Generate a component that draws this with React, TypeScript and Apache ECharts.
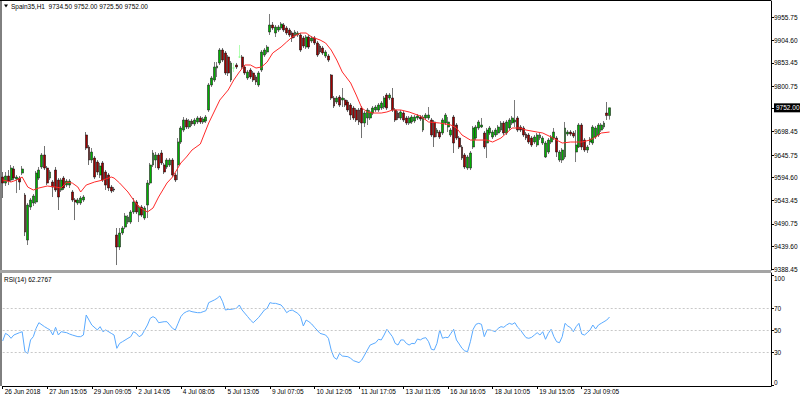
import React, { useEffect, useRef } from 'react';
import * as echarts from 'echarts';

// ---- categories (hourly session bars, 07:05-17:05) ----
const sessionDays = ['26 Jun', '27 Jun', '28 Jun', '29 Jun', '2 Jul', '3 Jul', '4 Jul', '5 Jul', '6 Jul', '9 Jul', '10 Jul', '11 Jul', '12 Jul', '13 Jul', '16 Jul', '17 Jul', '18 Jul', '19 Jul', '20 Jul', '23 Jul', '24 Jul', '25 Jul', '26 Jul', '27 Jul', '30 Jul', '31 Jul'];
const firstLabel = '26 Jun 2018';
const totalSlots = 277;
const labelEvery = 16;

// ---- price ticks ----
const priceTicks = [9955.75, 9904.6, 9853.45, 9800.75, 9752.0, 9698.45, 9645.75, 9594.6, 9543.45, 9490.75, 9439.6, 9388.45];
const currentPrice = 9752.0;
const rsiTicks = [0, 30, 50, 70, 100];
const rsiLevels = [30, 50, 70];

// ---- candles ----
const opens = [9596.2,9582.7,9598.5,9589.5,9614.3,9591.7,9594.0,9605.2,9555.7,9454.4,9528.7,9537.7,9540.0,9594.0,9618.8,9645.8,9616.5,9594.0,9585.0,9612.0,9589.5,9567.0,9594.0,9578.2,9578.2,9562.5,9544.5,9537.7,9537.7,9544.5,
9690.8,9663.8,9634.5,9639.0,9630.0,9600.7,9627.8,9607.5,9600.7,9573.7,9569.2,9465.7,9438.7,9470.2,9483.7,9494.9,9494.9,9517.5,9540.0,9510.7,9528.7,9503.9,9533.2,9582.7,9623.3,9634.5,9645.8,9650.3,9623.3,9618.8,
9623.3,9634.5,9600.7,9623.3,9675.0,9702.0,9724.6,9708.8,9722.3,9715.6,9720.1,9729.1,9720.1,9722.3,9747.1,9803.4,9814.6,9841.6,9852.9,9882.1,9875.4,9866.4,9814.6,9841.6,9848.4,9866.4,9866.4,9843.9,9819.1,9837.1,
9830.4,9821.4,9803.4,9837.1,9870.9,9877.6,9922.7,9938.4,9920.4,9927.2,9931.7,9938.4,9931.7,9927.2,9920.4,9913.7,9915.9,9915.9,9909.2,9888.9,9911.4,9902.4,9909.2,9897.9,9891.1,9886.6,9868.6,9868.6,9825.9,9774.1,
9765.1,9776.3,9769.6,9769.6,9765.1,9758.3,9751.6,9747.1,9747.1,9751.6,9717.8,9729.1,9729.1,9740.3,9747.1,9747.1,9751.6,9753.8,9780.8,9774.1,9774.1,9747.1,9740.3,9729.1,9740.3,9729.1,9717.8,9720.1,9722.3,9729.1,
9731.3,9702.0,9729.1,9729.1,9724.6,9720.1,9695.3,9697.5,9695.3,9717.8,9708.8,9690.8,9731.3,9713.3,9684.0,9663.8,9645.8,9616.5,9616.5,9663.8,9684.0,9706.6,9708.8,9695.3,9672.8,9695.3,9686.3,9690.8,9695.3,9702.0,
9717.8,9695.3,9706.6,9717.8,9720.1,9729.1,9708.8,9706.6,9693.0,9690.8,9684.0,9675.0,9668.3,9684.0,9672.8,9641.3,9652.5,9675.0,9684.0,9684.0,9634.5,9634.5,9641.3,9693.0,9697.5,9695.3,9652.5,9663.8,9713.3,9679.5,
9657.0,9675.0,9672.8,9686.3,9690.8,9702.0,9708.8,9740.3,9734.5];
const closes = [9582.7,9598.5,9587.2,9616.5,9594.0,9596.2,9585.0,9614.3,9472.4,9533.2,9544.5,9553.5,9605.2,9612.0,9645.8,9616.5,9582.7,9607.5,9573.7,9567.0,9551.2,9589.5,9571.5,9587.2,9587.2,9544.5,9540.0,9544.5,9549.0,9551.2,
9661.5,9634.5,9652.5,9596.2,9607.5,9621.0,9589.5,9578.2,9571.5,9564.7,9567.0,9438.7,9470.2,9481.4,9508.4,9506.2,9517.5,9540.0,9517.5,9528.7,9510.7,9526.5,9582.7,9623.3,9650.3,9645.8,9616.5,9627.8,9607.5,9634.5,
9634.5,9600.7,9589.5,9675.0,9706.6,9724.6,9708.8,9722.3,9715.6,9724.6,9729.1,9720.1,9726.8,9731.3,9803.4,9819.1,9843.9,9846.1,9882.1,9859.6,9830.4,9830.4,9852.9,9841.6,9843.9,9866.4,9843.9,9830.4,9832.6,9821.4,
9814.6,9810.1,9830.4,9877.6,9882.1,9888.9,9938.4,9931.7,9933.9,9933.9,9940.7,9927.2,9920.4,9915.9,9909.2,9922.7,9920.4,9882.1,9891.1,9911.4,9888.9,9909.2,9897.9,9870.9,9877.6,9875.4,9877.6,9859.6,9774.1,9756.1,
9774.1,9758.3,9774.1,9758.3,9747.1,9735.8,9729.1,9724.6,9720.1,9717.8,9740.3,9747.1,9742.6,9751.6,9753.8,9758.3,9762.8,9774.1,9751.6,9780.8,9747.1,9724.6,9729.1,9742.6,9724.6,9717.8,9729.1,9731.3,9731.3,9733.6,
9726.8,9731.3,9735.8,9735.8,9690.8,9686.3,9702.0,9686.3,9724.6,9735.8,9720.1,9702.0,9672.8,9684.0,9663.8,9639.0,9618.8,9641.3,9650.3,9706.6,9708.8,9720.1,9713.3,9663.8,9702.0,9706.6,9697.5,9702.0,9708.8,9717.8,
9695.3,9720.1,9724.6,9729.1,9724.6,9702.0,9702.0,9690.8,9684.0,9675.0,9668.3,9686.3,9690.8,9690.8,9684.0,9672.8,9679.5,9686.3,9697.5,9652.5,9652.5,9657.0,9706.6,9697.5,9693.0,9688.5,9668.3,9713.3,9663.8,9657.0,
9663.8,9681.8,9708.8,9706.6,9713.3,9713.3,9717.8,9734.5,9752.0];
const lows = [9549.0,9576.0,9578.2,9585.0,9589.5,9560.2,9567.0,9600.7,9463.4,9443.2,9522.0,9531.0,9535.5,9589.5,9614.3,9612.0,9578.2,9589.5,9551.2,9562.5,9522.0,9562.5,9567.0,9573.7,9571.5,9540.0,9499.4,9533.2,9533.2,9540.0,
9657.0,9623.3,9627.8,9591.7,9600.7,9594.0,9585.0,9567.0,9564.7,9560.2,9562.5,9398.1,9431.9,9465.7,9479.2,9490.4,9490.4,9512.9,9512.9,9494.9,9506.2,9499.4,9503.9,9578.2,9618.8,9616.5,9612.0,9623.3,9603.0,9614.3,
9618.8,9596.2,9585.0,9589.5,9670.5,9697.5,9704.3,9704.3,9711.1,9711.1,9715.6,9715.6,9715.6,9717.8,9742.6,9798.9,9810.1,9821.4,9848.4,9855.1,9825.9,9823.6,9810.1,9832.6,9839.4,9864.1,9839.4,9825.9,9814.6,9816.9,
9810.1,9803.4,9798.9,9832.6,9866.4,9873.1,9915.9,9927.2,9911.4,9922.7,9927.2,9922.7,9915.9,9911.4,9900.2,9909.2,9911.4,9877.6,9886.6,9884.4,9884.4,9897.9,9893.4,9866.4,9873.1,9870.9,9864.1,9855.1,9769.6,9751.6,
9760.6,9753.8,9753.8,9753.8,9742.6,9724.6,9724.6,9720.1,9713.3,9684.0,9708.8,9713.3,9724.6,9735.8,9742.6,9742.6,9747.1,9749.3,9747.1,9769.6,9742.6,9720.1,9724.6,9724.6,9720.1,9713.3,9713.3,9715.6,9717.8,9724.6,
9722.3,9697.5,9724.6,9724.6,9686.3,9663.8,9686.3,9681.8,9690.8,9713.3,9697.5,9686.3,9650.3,9679.5,9659.3,9634.5,9614.3,9612.0,9612.0,9659.3,9679.5,9702.0,9706.6,9659.3,9639.0,9690.8,9681.8,9686.3,9690.8,9697.5,
9690.8,9690.8,9702.0,9713.3,9708.8,9697.5,9697.5,9686.3,9679.5,9670.5,9663.8,9670.5,9663.8,9679.5,9668.3,9639.0,9648.0,9670.5,9679.5,9641.3,9630.0,9627.8,9636.8,9688.5,9688.5,9684.0,9630.0,9661.5,9657.0,9652.5,
9650.3,9668.3,9668.3,9681.8,9686.3,9697.5,9704.3,9724.6,9725.5];
const highs = [9607.5,9607.5,9612.0,9623.3,9621.0,9600.7,9598.5,9621.0,9560.2,9537.7,9549.0,9558.0,9609.7,9618.8,9650.3,9666.0,9621.0,9612.0,9589.5,9618.8,9594.0,9594.0,9598.5,9591.7,9591.7,9567.0,9549.0,9549.0,9553.5,9555.7,
9697.5,9668.3,9661.5,9643.5,9634.5,9627.8,9632.3,9612.0,9605.2,9578.2,9573.7,9481.4,9481.4,9485.9,9515.2,9510.7,9522.0,9549.0,9544.5,9533.2,9533.2,9531.0,9589.5,9627.8,9657.0,9652.5,9650.3,9657.0,9627.8,9639.0,
9639.0,9639.0,9605.2,9684.0,9711.1,9731.3,9729.1,9726.8,9726.8,9729.1,9733.6,9733.6,9731.3,9735.8,9807.9,9823.6,9855.1,9855.1,9886.6,9886.6,9879.9,9870.9,9857.4,9852.9,9852.9,9893.4,9870.9,9848.4,9837.1,9841.6,
9834.9,9825.9,9834.9,9882.1,9886.6,9893.4,9963.2,9945.2,9938.4,9938.4,9945.2,9942.9,9936.2,9931.7,9924.9,9927.2,9924.9,9920.4,9913.7,9915.9,9915.9,9913.7,9913.7,9902.4,9895.6,9891.1,9882.1,9873.1,9828.1,9778.6,
9778.6,9780.8,9796.6,9774.1,9769.6,9762.8,9756.1,9751.6,9751.6,9756.1,9744.8,9751.6,9747.1,9756.1,9758.3,9762.8,9767.3,9778.6,9785.3,9785.3,9796.6,9751.6,9744.8,9747.1,9744.8,9733.6,9733.6,9735.8,9735.8,9738.1,
9735.8,9735.8,9740.3,9753.8,9729.1,9724.6,9706.6,9702.0,9729.1,9740.3,9731.3,9706.6,9735.8,9717.8,9688.5,9668.3,9650.3,9645.8,9654.8,9711.1,9713.3,9724.6,9729.1,9699.8,9706.6,9711.1,9702.0,9706.6,9713.3,9722.3,
9722.3,9724.6,9729.1,9733.6,9769.6,9733.6,9713.3,9711.1,9697.5,9695.3,9688.5,9690.8,9695.3,9695.3,9688.5,9677.3,9684.0,9690.8,9706.6,9688.5,9657.0,9661.5,9720.1,9702.0,9702.0,9699.8,9702.0,9717.8,9717.8,9684.0,
9668.3,9686.3,9713.3,9711.1,9717.8,9717.8,9722.3,9765.1,9752.0];

// ---- moving average (bar index, price) ----
const maPoints = [[0,9589.5],[3,9585.0],[5,9589.5],[7,9596.2],[9,9573.7],[11,9567.0],[13,9571.5],[16,9576.0],[19,9573.7],[21,9571.5],[23,9585.0],[25,9582.7],[27,9573.7],[28,9562.5],[30,9578.2],[33,9585.0],[36,9589.5],[39,9596.2],[40,9594.0],[42,9582.7],[45,9562.5],[47,9544.5],[49,9528.7],[52,9517.5],[54,9526.5],[56,9551.2],[59,9582.7],[61,9596.2],[64,9627.8],[66,9641.3],[68,9657.0],[71,9670.5],[74,9717.8],[78,9769.6],[81,9792.1],[83,9814.6],[85,9832.6],[87,9848.4],[89,9848.4],[91,9841.6],[93,9843.9],[95,9855.1],[97,9875.4],[100,9888.9],[102,9900.2],[104,9911.4],[107,9920.4],[109,9920.4],[111,9911.4],[114,9904.7],[116,9897.9],[118,9882.1],[120,9859.6],[122,9832.6],[125,9807.9],[127,9780.8],[129,9751.6],[131,9742.6],[133,9740.3],[136,9740.3],[138,9742.6],[140,9747.1],[143,9747.1],[146,9742.6],[150,9733.6],[153,9720.1],[157,9717.8],[161,9713.3],[163,9706.6],[165,9690.8],[168,9679.5],[170,9679.5],[174,9679.5],[176,9675.0],[179,9684.0],[181,9695.3],[183,9706.6],[186,9706.6],[188,9702.0],[192,9697.5],[194,9695.3],[197,9686.3],[199,9679.5],[201,9672.8],[204,9675.0],[206,9675.0],[208,9675.0],[211,9679.5],[213,9686.3],[215,9695.3],[218,9697.5]];

// ---- RSI(14) (bar index, value) ----
const rsiPoints = [[0,40.5],[1,47.4],[2,45.9],[3,42.9],[4,45.9],[6,48.0],[7,48.9],[8,30.8],[9,29.2],[10,41.4],[11,44.4],[12,52.0],[13,57.1],[15,53.5],[16,52.0],[17,50.5],[18,45.9],[19,52.9],[20,45.9],[21,48.9],[23,48.0],[24,46.8],[25,45.9],[27,44.4],[28,44.4],[29,45.9],[30,64.1],[31,59.5],[32,55.0],[34,50.5],[35,53.5],[36,48.9],[37,50.5],[39,47.4],[40,45.9],[41,33.8],[42,38.3],[43,39.8],[45,42.9],[46,44.4],[47,48.9],[48,47.4],[49,44.4],[50,45.9],[52,55.0],[53,61.1],[54,62.6],[55,61.1],[56,57.1],[58,58.0],[59,58.0],[60,55.0],[61,52.0],[62,50.5],[63,56.5],[64,62.6],[65,65.6],[66,67.1],[67,68.0],[68,67.1],[70,66.2],[71,66.2],[72,67.1],[73,68.0],[74,75.3],[76,77.7],[77,79.2],[78,81.4],[79,76.2],[80,68.6],[81,69.2],[82,69.2],[84,70.2],[85,73.2],[86,68.6],[88,62.6],[89,59.5],[90,57.1],[91,59.5],[92,62.0],[94,68.6],[95,70.2],[96,75.3],[97,74.7],[98,74.7],[100,73.2],[101,70.2],[102,66.2],[103,68.0],[104,68.6],[106,65.6],[107,62.6],[108,54.1],[109,59.5],[110,58.0],[111,55.9],[112,52.9],[114,47.4],[116,45.9],[117,42.9],[118,32.3],[119,25.6],[120,23.8],[121,29.2],[122,26.8],[124,26.2],[125,24.7],[126,22.6],[128,20.8],[129,23.2],[130,27.7],[131,32.3],[132,36.8],[134,38.9],[135,42.0],[136,41.4],[137,45.9],[138,51.1],[140,44.4],[141,38.3],[142,36.8],[143,41.4],[144,41.4],[145,38.3],[146,36.8],[147,38.3],[148,38.0],[149,42.3],[150,41.4],[151,42.9],[152,43.5],[153,39.8],[154,32.9],[155,32.3],[156,38.3],[157,50.5],[158,42.9],[159,43.8],[160,43.5],[161,47.4],[162,51.1],[163,41.4],[164,37.7],[165,33.8],[166,31.4],[167,30.8],[168,39.8],[169,51.1],[170,55.6],[171,56.5],[172,55.6],[173,44.4],[174,50.5],[175,50.5],[176,49.8],[177,48.9],[178,52.0],[179,53.5],[180,52.9],[181,55.0],[182,56.5],[183,55.6],[184,57.1],[185,52.9],[186,50.5],[187,46.8],[188,43.5],[189,42.9],[190,43.8],[191,45.9],[192,48.0],[193,45.9],[194,48.9],[195,42.0],[196,47.4],[197,51.1],[198,44.4],[199,39.8],[200,38.9],[201,44.4],[202,56.5],[203,54.1],[204,52.6],[205,48.9],[206,53.5],[207,56.5],[208,46.8],[209,45.9],[210,48.0],[211,50.5],[212,55.0],[213,51.4],[214,55.0],[215,56.5],[216,58.0],[217,59.5],[218,62.2767]];

const titleText = 'Spain35,H1  9734.50 9752.00 9725.50 9752.00';
const rsiTitle = 'RSI(14) 62.2767';

const FONT = '"Liberation Sans", Arial, sans-serif';
const FS = 6.5;

function buildCategories(): string[] {
  const out: string[] = [];
  sessionDays.forEach((d, di) => {
    const start = di === 0 ? 10 : 7;
    for (let h = start; h <= 17; h++) out.push(`${d} ${String(h).padStart(2, '0')}:05`);
  });
  return out.slice(0, totalSlots);
}

export default function App() {
  const ref = useRef<HTMLDivElement>(null);
  useEffect(() => {
    if (!ref.current) return;
    const chart = echarts.init(ref.current, null, { renderer: 'svg' });
    const categories = buildCategories();
    const lastBar = opens.length - 1;
    const candles = opens.map((o, i) => [o, closes[i], lows[i], highs[i]]);
    const showAt = (i: number) => i % labelEvery === 0 && i <= lastBar;

    const option: any = {
      animation: false,
      backgroundColor: '#ffffff',
      textStyle: { fontFamily: FONT },
      grid: [
        { left: 2.7, right: 29, top: 1, height: 269, outerBoundsMode: 'none', containLabel: false },
        { left: 2.7, right: 29, top: 273, height: 113, outerBoundsMode: 'none', containLabel: false },
      ],
      xAxis: [
        {
          type: 'category', gridIndex: 0, data: categories, boundaryGap: false,
          axisLine: { show: false }, axisTick: { show: false }, axisLabel: { show: false }, splitLine: { show: false },
        },
        {
          type: 'category', gridIndex: 1, data: categories, boundaryGap: false,
          axisLine: { show: true, onZero: false, lineStyle: { color: '#000', width: 1 } },
          axisTick: { show: true, interval: (i: number) => showAt(i), length: 3, lineStyle: { color: '#000' } },
          axisLabel: {
            interval: (i: number) => showAt(i), align: 'left', margin: 2, padding: [0, 0, 0, 2],
            fontSize: FS, fontFamily: FONT, color: '#000',
            formatter: (v: string, i: number) => (i === 0 ? firstLabel : v),
          },
          splitLine: { show: false },
        },
      ],
      yAxis: [
        {
          type: 'value', gridIndex: 0, position: 'right', min: 9386.95, max: 9992.45, scale: true,
          axisLine: { show: true, onZero: false, lineStyle: { color: '#000', width: 1 } },
          axisTick: { show: true, length: 3, customValues: priceTicks, lineStyle: { color: '#000' } },
          axisLabel: {
            customValues: priceTicks, margin: 3, fontSize: FS, fontFamily: FONT, color: '#000',
            formatter: (v: number) => (Math.abs(v - currentPrice) < 1e-6 ? `{hl|${v.toFixed(2)}}` : v.toFixed(2)),
            rich: { hl: { backgroundColor: '#000', color: '#fff', padding: [1, 3, 1, 2], fontSize: FS, fontFamily: FONT } },
          },
          splitLine: { show: false },
        },
        {
          type: 'value', gridIndex: 1, position: 'right', min: -0.45, max: 102.27,
          axisLine: { show: true, onZero: false, lineStyle: { color: '#000', width: 1 } },
          axisTick: { show: true, length: 3, customValues: rsiTicks, lineStyle: { color: '#000' } },
          axisLabel: {
            customValues: rsiTicks, margin: 3, fontSize: FS, fontFamily: FONT, color: '#000',
            verticalAlignMinLabel: 'bottom', verticalAlignMaxLabel: 'top',
          },
          splitLine: { show: false },
        },
      ],
      series: [
        {
          type: 'candlestick', xAxisIndex: 0, yAxisIndex: 0, data: candles, barWidth: 2.4, clip: false,
          itemStyle: {
            color: '#00b000', color0: '#a00000', borderColor: '#222', borderColor0: '#111',
            borderColorDoji: '#7dff7d', borderWidth: 0.6,
          },
        },
        {
          type: 'line', xAxisIndex: 0, yAxisIndex: 0, data: maPoints, symbol: 'none', showSymbol: false,
          lineStyle: { color: '#ff2a2a', width: 1 }, z: 3,
        },
        {
          type: 'line', xAxisIndex: 1, yAxisIndex: 1, data: rsiPoints, symbol: 'none', showSymbol: false,
          lineStyle: { color: '#5aaaff', width: 1 }, z: 3,
          markLine: {
            silent: true, symbol: 'none', label: { show: false },
            lineStyle: { type: [2, 2], color: '#c8c8c8', width: 1 },
            data: rsiLevels.map((v) => ({ yAxis: v })),
          },
        },
      ],
      graphic: [
        { type: 'line', shape: { x1: 1, y1: 0, x2: 1, y2: 386 }, style: { stroke: '#000', lineWidth: 1 }, silent: true },
        { type: 'line', shape: { x1: 0, y1: 0.5, x2: 771, y2: 0.5 }, style: { stroke: '#000', lineWidth: 1 }, silent: true },
        { type: 'rect', shape: { x: 0, y: 270, width: 771, height: 3 }, style: { fill: '#a4a4a4' }, silent: true },
        { type: 'polygon', shape: { points: [[4, 4.5], [8, 4.5], [6, 7.5]] }, style: { fill: '#000' }, silent: true },
        { type: 'text', x: 11, y: 6, style: { text: titleText, fill: '#000', font: `${FS}px ${FONT}`, verticalAlign: 'middle' }, silent: true },
        { type: 'text', x: 4, y: 279, style: { text: rsiTitle, fill: '#000', font: `${FS}px ${FONT}`, verticalAlign: 'middle' }, silent: true },
      ],
    };
    chart.setOption(option);
    return () => chart.dispose();
  }, []);
  return <div ref={ref} style={{ position: 'fixed', left: 0, top: 0, width: 800, height: 400 }} />;
}
